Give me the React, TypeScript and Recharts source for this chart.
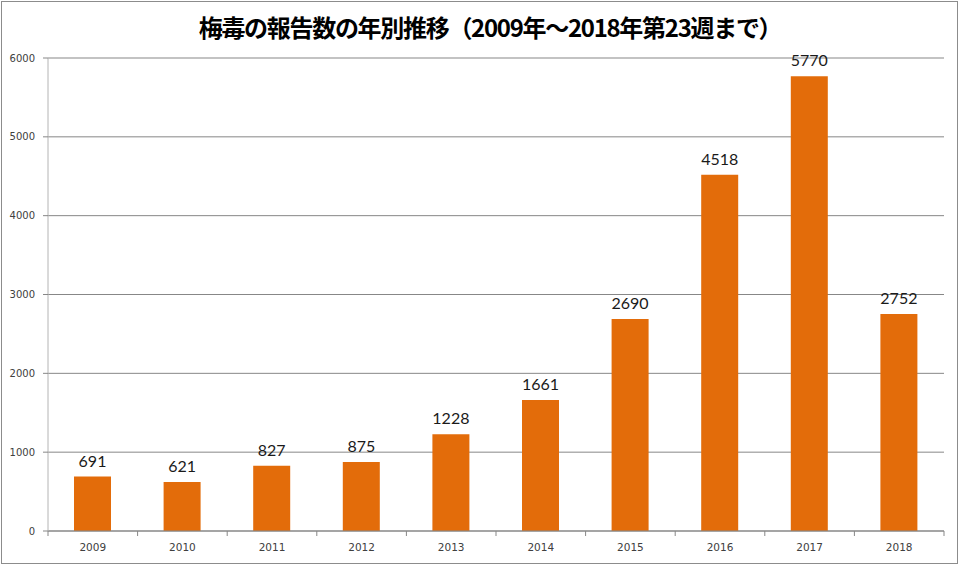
import { Bar, BarChart, CartesianGrid, LabelList, XAxis, YAxis } from "recharts";

const years = ["2009", "2010", "2011", "2012", "2013", "2014", "2015", "2016", "2017", "2018"];
const reports = [691, 621, 827, 875, 1228, 1661, 2690, 4518, 5770, 2752];
const yTicks = [0, 1000, 2000, 3000, 4000, 5000, 6000];

const title = "梅毒の報告数の年別推移（2009年～2018年第23週まで）";

const data = years.map((year, i) => ({ year, count: reports[i] }));

const gridColor = "#878787";
const tickColor = "#404040";

function YearTick(props: any) {
  const { x, y, payload, index } = props;
  const half = payload.offset || 0;
  return (
    <g>
      {index === 0 && <line x1={x - half} x2={x - half} y1={y} y2={y + 5} stroke={gridColor} />}
      <line x1={x + half} x2={x + half} y1={y} y2={y + 5} stroke={gridColor} />
      <text
        x={x}
        y={y + 20}
        textAnchor="middle"
        fill={tickColor}
        fontSize={10.5}
        fontFamily="DejaVu Sans"
      >
        {payload.value}
      </text>
    </g>
  );
}

export default function App() {
  return (
    <div style={{ position: "absolute", left: 0, top: 0, width: 960, height: 566, background: "#fff" }}>
      <div
        style={{
          position: "absolute",
          left: 1,
          top: 1,
          width: 955,
          height: 561,
          border: "1px solid #8c8c8c"
        }}
      />
      <div
        style={{
          position: "absolute",
          left: 10,
          top: 9,
          width: 960,
          textAlign: "center",
          fontFamily: "'Noto Sans CJK JP'",
          fontWeight: 700,
          fontSize: 24,
          letterSpacing: -1.3,
          color: "#000"
        }}
      >
        {title}
      </div>
      <BarChart
        width={960}
        height={566}
        data={data}
        margin={{ top: 58, right: 16, left: 0, bottom: 0 }}
        style={{ position: "absolute", left: 0, top: 0 }}
      >
        <CartesianGrid vertical={false} stroke={gridColor} />
        <XAxis
          dataKey="year"
          height={35}
          tickSize={0}
          tickMargin={0}
          tickLine={false}
          axisLine={{ stroke: gridColor }}
          tick={<YearTick />}
          interval={0}
        />
        <YAxis
          width={48}
          domain={[0, 6000]}
          ticks={yTicks}
          tickSize={5}
          tickMargin={8}
          tickLine={{ stroke: gridColor }}
          axisLine={{ stroke: "#b4b4b4" }}
          tick={{ fill: tickColor, fontSize: 10, fontFamily: "DejaVu Sans" }}
        />
        <Bar dataKey="count" fill="#E36C0A" barSize={37} isAnimationActive={false}>
          <LabelList
            dataKey="count"
            position="top"
            offset={10}
            fill="#1a1a1a"
            fontSize={16}
            fontFamily="Lato"
          />
        </Bar>
      </BarChart>
    </div>
  );
}
